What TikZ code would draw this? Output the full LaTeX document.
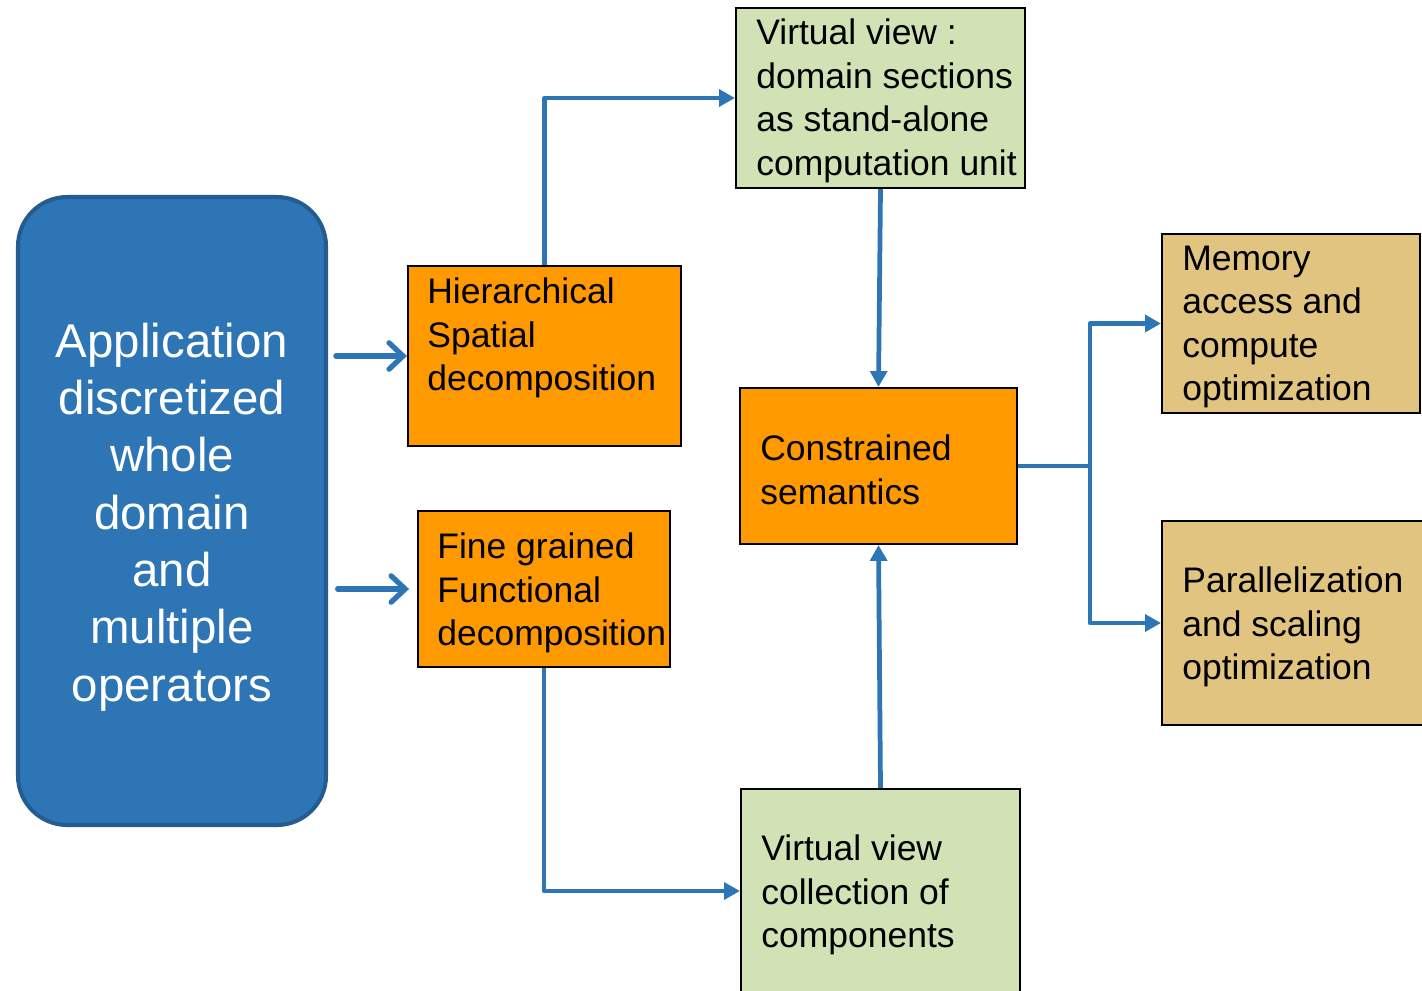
\documentclass[tikz,border=0pt]{standalone}
\usepackage{fontspec}
\setmainfont{Liberation Sans}
\usetikzlibrary{arrows.meta,fit}
\definecolor{appblue}{HTML}{2E75B6}
\definecolor{appedge}{HTML}{245B90}
\definecolor{linkblue}{HTML}{2E75B6}
\definecolor{boxorange}{HTML}{FF9900}
\definecolor{boxgreen}{HTML}{D1E3B5}
\definecolor{boxtan}{HTML}{E0C47F}
\tikzset{
  box/.style={draw=black, line width=1.2pt, inner sep=0pt},
  orangebox/.style={box, fill=boxorange},
  greenbox/.style={box, fill=boxgreen},
  tanbox/.style={box, fill=boxtan},
  txt/.style={inner sep=0pt, anchor=west, align=left, font=\fontsize{20.2}{24.8}\selectfont},
  bigtxt/.style={inner sep=0pt, align=center, text=white, font=\fontsize{27}{32.6}\selectfont},
  link/.style={draw=linkblue, line width=2.7pt, line join=round, -{Triangle[length=9pt,width=9.5pt]}},
  feed/.style={draw=linkblue, line width=3pt, line cap=round, -{Straight Barb[length=8pt,width=15pt,line cap=round]}}
}
\begin{document}
\begin{tikzpicture}[x=0.02cm, y=-0.02cm]
\useasboundingbox (0,0) rectangle (1422,990);

% main input block
\node[fill=appblue, draw=appedge, line width=2.3pt, rounded corners=28pt, inner sep=0pt,
      fit={(18,197) (326,825)}] (app) {};
\node[bigtxt] (appt) at (172,517)
  {Application\\discretized\\whole\\domain\\and\\multiple\\operators};

% decompositions
\node[orangebox, fit={(408,266) (681,446)}] (hier) {};
\node[txt] (hiert) at (427,338) {Hierarchical\\Spatial\\decomposition};
\node[orangebox, fit={(418,511) (670,667)}] (fine) {};
\node[txt] (finet) at (437,593) {Fine grained\\Functional\\decomposition};

% virtual views
\node[greenbox, fit={(736,8) (1025,188)}] (vtop) {};
\node[txt] (vtopt) at (756,101) {Virtual view :\\domain sections\\as stand-alone\\computation unit};
\node[greenbox, fit={(741,789) (1020,993)}] (vbot) {};
\node[txt] (vbott) at (761,895) {Virtual view\\collection of\\components};

% semantics
\node[orangebox, fit={(740,388) (1017,544)}] (cons) {};
\node[txt] (const) at (760,470) {Constrained\\semantics};

% optimizations
\node[tanbox, fit={(1162,234) (1420,413)}] (mem) {};
\node[txt] (memt) at (1182,327) {Memory\\access and\\compute\\optimization};
\node[tanbox, fit={(1162,521) (1424,725)}] (par) {};
\node[txt] (part) at (1182,627) {Parallelization\\and scaling\\optimization};

% feeds from the input block
\draw[feed, shorten <=4.5pt] (app.east |- hier.west) -- (hier.west);
\draw[feed, shorten <=5.5pt, shorten >=4.5pt] (app.east |- fine.west) -- (fine.west);

% connectors
\draw[link] (hier.north) |- (vtop.west);
\draw[link] (vtop.south) -- (cons.north);
\draw[link] (fine.south) |- (vbot.west);
\draw[link] (vbot.north) -- (cons.south);
\draw[draw=linkblue, line width=2.7pt] (cons.east) -- ++(72,0) coordinate (branch);
\draw[link] (branch) |- (mem.west);
\draw[link] (branch) |- (par.west);
\end{tikzpicture}
\end{document}
